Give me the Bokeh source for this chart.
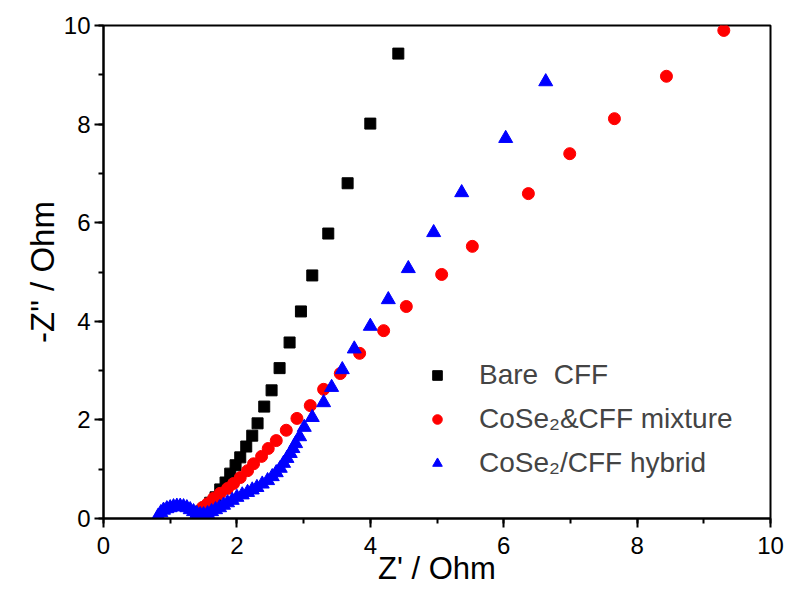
from bokeh.plotting import figure
from bokeh.models import Range1d, SingleIntervalTicker, Legend, LegendItem
from bokeh.embed import file_html
from bokeh.resources import INLINE

# Bare CFF
bare_x = [1.42, 1.45, 1.53, 1.60, 1.68, 1.75, 1.83, 1.90, 1.98, 2.05, 2.14, 2.23, 2.31, 2.41,
          2.52, 2.64, 2.79, 2.96, 3.13, 3.37, 3.66, 4.00, 4.42]
bare_y = [0.08, 0.14, 0.22, 0.32, 0.43, 0.59, 0.73, 0.91, 1.08, 1.24, 1.46, 1.68, 1.93, 2.27,
          2.60, 3.05, 3.57, 4.20, 4.93, 5.78, 6.80, 8.01, 9.43]

# CoSe2&CFF mixture
mix_x = [1.42, 1.48, 1.56, 1.65, 1.75, 1.86, 1.95, 2.05, 2.16, 2.25, 2.37, 2.47, 2.59, 2.74,
         2.90, 3.10, 3.30, 3.55, 3.84, 4.20, 4.54, 5.07, 5.53, 6.37, 6.99, 7.66, 8.44, 9.30]
mix_y = [0.12, 0.22, 0.30, 0.41, 0.51, 0.61, 0.71, 0.83, 0.97, 1.11, 1.26, 1.42, 1.58, 1.79,
         2.03, 2.29, 2.62, 2.94, 3.35, 3.81, 4.30, 4.95, 5.52, 6.59, 7.40, 8.11, 8.97, 9.90]

# CoSe2/CFF hybrid
hyb_x = [0.82, 0.86, 0.90, 0.95, 1.00, 1.05, 1.10, 1.15, 1.20, 1.25, 1.30, 1.35, 1.40, 1.45,
         1.50, 1.56, 1.62, 1.68, 1.74, 1.80, 1.86, 1.93, 2.00, 2.08, 2.16, 2.23, 2.30, 2.38,
         2.46, 2.53, 2.59, 2.65, 2.70, 2.75, 2.80, 2.84, 2.88, 2.94, 3.01, 3.13, 3.30, 3.42,
         3.58, 3.76, 4.00, 4.27, 4.57, 4.95, 5.37, 6.03, 6.63]
hyb_y = [0.05, 0.12, 0.17, 0.20, 0.22, 0.24, 0.25, 0.25, 0.24, 0.22, 0.18, 0.14, 0.10, 0.08,
         0.08, 0.10, 0.14, 0.18, 0.22, 0.27, 0.32, 0.37, 0.43, 0.48, 0.53, 0.58, 0.63, 0.70,
         0.77, 0.85, 0.93, 1.02, 1.12, 1.22, 1.32, 1.42, 1.52, 1.66, 1.85, 2.05, 2.35, 2.66,
         3.02, 3.44, 3.90, 4.44, 5.07, 5.80, 6.61, 7.71, 8.86]

labels = ["Bare\u00a0 CFF", "CoSe\u2082&CFF mixture", "CoSe\u2082/CFF hybrid"]
tick_interval = 2

FONT = "Liberation Sans"

p = figure(width=792, height=601, output_backend="svg", toolbar_location=None,
           x_range=Range1d(0, 10), y_range=Range1d(0, 10),
           min_border_left=103, min_border_right=22, min_border_top=25, min_border_bottom=83)

p.grid.visible = False
p.outline_line_color = "black"
p.outline_line_width = 2
p.background_fill_color = "white"
p.border_fill_color = "white"

for ax in (p.xaxis[0], p.yaxis[0]):
    ax.ticker = SingleIntervalTicker(interval=tick_interval, num_minor_ticks=2)
    ax.axis_line_width = 2
    ax.major_tick_line_width = 2
    ax.minor_tick_line_width = 2
    ax.major_tick_out = 9
    ax.major_tick_in = 0
    ax.minor_tick_out = 5
    ax.minor_tick_in = 0
    ax.major_label_text_font = FONT
    ax.major_label_text_font_size = "24px"
    ax.major_label_text_color = "black"
    ax.axis_label_text_font = FONT
    ax.axis_label_text_font_style = "normal"
    ax.axis_label_text_color = "black"

p.xaxis.axis_label = "Z' / Ohm"
p.yaxis.axis_label = '-Z" / Ohm'
p.xaxis.axis_label_text_font_size = "31px"
p.yaxis.axis_label_text_font_size = "33px"
p.xaxis.major_label_standoff = 9
p.yaxis.major_label_standoff = 4
p.xaxis.axis_label_standoff = -6
p.yaxis.axis_label_standoff = 0

r1 = p.scatter(bare_x, bare_y, marker="square", size=11, color="black")
r2 = p.scatter(mix_x, mix_y, marker="circle", size=12, color="red")
r3 = p.scatter(hyb_x, hyb_y, marker="triangle", size=14, color="blue")

legend = Legend(items=[LegendItem(label=labels[0], renderers=[r1]),
                       LegendItem(label=labels[1], renderers=[r2]),
                       LegendItem(label=labels[2], renderers=[r3])],
                location=(312, 27))
legend.border_line_alpha = 0
legend.background_fill_alpha = 0
legend.label_text_font = FONT
legend.label_text_font_size = "28px"
legend.label_standoff = 30
legend.glyph_width = 24
legend.glyph_height = 24
legend.label_height = 36
legend.spacing = 8
legend.padding = 10
p.add_layout(legend)

open("out.html", "w").write(file_html(p, INLINE))
